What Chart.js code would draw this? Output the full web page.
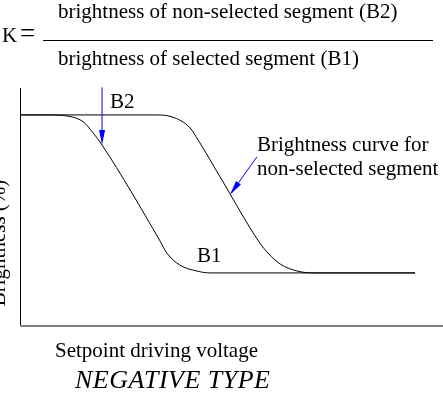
<!DOCTYPE html>
<html>
<head>
<meta charset="utf-8">
<script src="https://cdn.jsdelivr.net/npm/chart.js@4.4.1/dist/chart.umd.min.js"></script>
<style>
  html, body { margin: 0; padding: 0; background: #fff; }
  canvas { display: block; }
</style>
</head>
<body>
<canvas id="curve" width="443" height="403"></canvas>
<script>
// driving voltage (arbitrary units) and brightness (%) for each segment
const selectedVolt = [0, 0.64, 1.11, 1.49, 1.73, 1.94, 3.31, 3.47, 3.78, 4.18, 4.49, 9.34];
const selectedBright = [100, 100, 99.5, 96.8, 91.5, 85.8, 40.6, 34.9, 29.2, 26.4, 25.5, 25.5];
const nonSelVolt = [0, 3.19, 3.59, 4.02, 4.21, 4.73, 5.67, 5.86, 6.15, 6.55, 6.97, 9.34];
const nonSelBright = [100, 100, 99.1, 93.9, 88.2, 70.8, 39.6, 34.9, 29.7, 26.4, 25.5, 25.5];

// arrow tips (on the curves) and tails
const b2Arrow = { tip: [1.94, 85.8], tail: [1.94, 113] };
const curveArrow = { tip: [4.96, 62.3], tail: [5.6, 80.2] };

const SERIF = '"Liberation Serif", "Times New Roman", serif';
const BLUE = '#0000ff';

function toPoints(xs, ys) {
    return xs.map((x, i) => ({ x: x, y: ys[i] }));
}

function drawArrow(ctx, x1, y1, x2, y2) {
    const ang = Math.atan2(y2 - y1, x2 - x1);
    const len = 15, half = 3;
    ctx.save();
    ctx.strokeStyle = BLUE;
    ctx.fillStyle = BLUE;
    ctx.lineWidth = 1;
    ctx.beginPath();
    ctx.moveTo(x1, y1);
    ctx.lineTo(x2 - Math.cos(ang) * len, y2 - Math.sin(ang) * len);
    ctx.stroke();
    ctx.translate(x2, y2);
    ctx.rotate(ang);
    ctx.beginPath();
    ctx.moveTo(0, 0);
    ctx.lineTo(-len, -half);
    ctx.lineTo(-len, half);
    ctx.closePath();
    ctx.fill();
    ctx.restore();
}

const decorations = {
    id: 'decorations',
    afterDraw(chart) {
        const ctx = chart.ctx;
        const area = chart.chartArea;
        const xs = chart.scales.x, ys = chart.scales.y;

        ctx.save();
        // axes
        ctx.strokeStyle = '#000';
        ctx.lineWidth = 1;
        ctx.beginPath();
        ctx.moveTo(area.left + 0.5, area.top);
        ctx.lineTo(area.left + 0.5, area.bottom);
        ctx.stroke();
        ctx.strokeStyle = '#808080';
        ctx.lineWidth = 2;
        ctx.beginPath();
        ctx.moveTo(area.left, area.bottom - 1);
        ctx.lineTo(area.right, area.bottom - 1);
        ctx.stroke();

        // K = B2 / B1
        ctx.fillStyle = '#000';
        ctx.textBaseline = 'alphabetic';
        ctx.textAlign = 'left';
        ctx.font = '21px ' + SERIF;
        ctx.fillText('K', 2, 42);
        ctx.font = '27px ' + SERIF;
        ctx.fillText('=', 20, 42);
        ctx.font = '21px ' + SERIF;
        ctx.fillText('brightness of non-selected segment (B2)', 58, 18);
        ctx.fillText('brightness of selected segment (B1)', 58, 65);
        ctx.strokeStyle = '#000';
        ctx.lineWidth = 1;
        ctx.beginPath();
        ctx.moveTo(43, 40.5);
        ctx.lineTo(433, 40.5);
        ctx.stroke();

        // axis titles
        ctx.save();
        ctx.translate(5, 243);
        ctx.rotate(-Math.PI / 2);
        ctx.textAlign = 'center';
        ctx.fillText('Brightness (%)', 0, 0);
        ctx.restore();
        ctx.fillText('Setpoint driving voltage', 55, 357);
        ctx.font = 'italic 26px ' + SERIF;
        ctx.letterSpacing = '0.5px';
        ctx.fillText('NEGATIVE TYPE', 75, 388);
        ctx.letterSpacing = '0px';

        // curve labels
        ctx.font = '21px ' + SERIF;
        ctx.fillText('B2', 110, 108);
        ctx.fillText('B1', 197, 262);
        ctx.fillText('Brightness curve for', 257, 151);
        ctx.fillText('non-selected segment', 257, 175);

        drawArrow(ctx,
            xs.getPixelForValue(b2Arrow.tail[0]), ys.getPixelForValue(b2Arrow.tail[1]),
            xs.getPixelForValue(b2Arrow.tip[0]), ys.getPixelForValue(b2Arrow.tip[1]));
        drawArrow(ctx,
            xs.getPixelForValue(curveArrow.tail[0]), ys.getPixelForValue(curveArrow.tail[1]),
            xs.getPixelForValue(curveArrow.tip[0]), ys.getPixelForValue(curveArrow.tip[1]));
        ctx.restore();
    }
};

new Chart(document.getElementById('curve'), {
    type: 'line',
    data: {
        datasets: [
            {
                label: 'B1',
                data: toPoints(selectedVolt, selectedBright),
                borderColor: '#000',
                borderWidth: 1,
                pointRadius: 0,
                cubicInterpolationMode: 'monotone',
                fill: false
            },
            {
                label: 'B2',
                data: toPoints(nonSelVolt, nonSelBright),
                borderColor: '#000',
                borderWidth: 1,
                pointRadius: 0,
                cubicInterpolationMode: 'monotone',
                fill: false
            }
        ]
    },
    options: {
        responsive: false,
        animation: false,
        layout: { padding: { left: 20, top: 88, right: 0, bottom: 76 } },
        plugins: { legend: { display: false }, tooltip: { enabled: false } },
        scales: {
            x: { type: 'linear', min: 0, max: 10, display: false },
            y: { min: 0, max: 112.7, display: false }
        }
    },
    plugins: [decorations]
});
</script>
</body>
</html>
